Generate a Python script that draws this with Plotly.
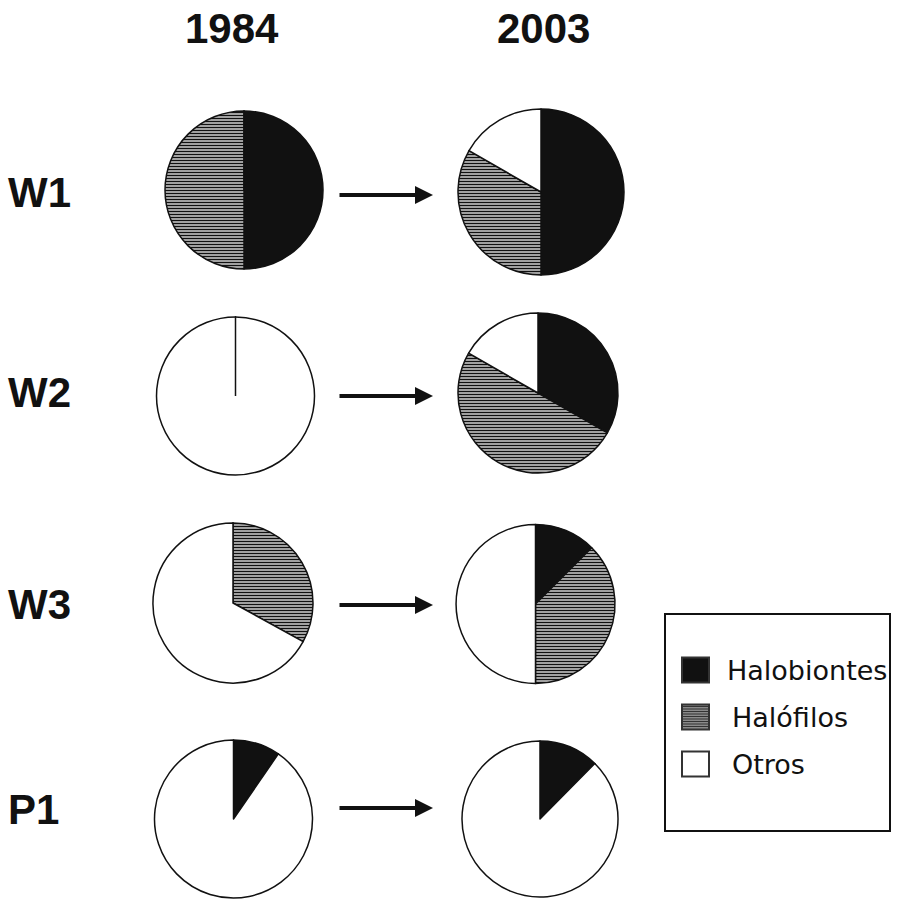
import plotly.graph_objects as go

W, H = 904, 899

categories = ["Halobiontes", "Halófilos", "Otros"]
sites = ["W1", "W2", "W3", "P1"]
years = ["1984", "2003"]

# percentage of species per category (Halobiontes, Halófilos, Otros)
w1_1984 = [50, 50, 0]
w1_2003 = [50, 33.3, 16.7]
w2_1984 = [0, 0, 100]
w2_2003 = [33.3, 50, 16.7]
w3_1984 = [0, 33, 67]
w3_2003 = [12.5, 37.5, 50]
p1_1984 = [9.6, 0, 90.4]
p1_2003 = [12.4, 0, 87.6]

# layout (pixel centres / radii of pies)
pie_layout = {
    ("W1", "1984"): (244, 190, 79), ("W1", "2003"): (541, 192, 83),
    ("W2", "1984"): (235.5, 396, 79), ("W2", "2003"): (538, 393, 80),
    ("W3", "1984"): (233, 603, 80), ("W3", "2003"): (535.5, 604, 79.5),
    ("P1", "1984"): (233.5, 819, 79), ("P1", "2003"): (540, 819, 78),
}
data_map = {
    ("W1", "1984"): w1_1984, ("W1", "2003"): w1_2003,
    ("W2", "1984"): w2_1984, ("W2", "2003"): w2_2003,
    ("W3", "1984"): w3_1984, ("W3", "2003"): w3_2003,
    ("P1", "1984"): p1_1984, ("P1", "2003"): p1_2003,
}
row_y = {"W1": 192, "W2": 393, "W3": 604, "P1": 809}
arrow_y = {"W1": 195, "W2": 396, "W3": 605, "P1": 808}
header_x = {"1984": 232, "2003": 543}

fills = ["#111111", "#ffffff", "#ffffff"]
pattern_shapes = ["", "-", ""]

def px(x):
    return x / W

def py(y):
    return 1 - y / H

fig = go.Figure()
for key, vals in data_map.items():
    cx, cy, r = pie_layout[key]
    fig.add_trace(go.Pie(
        labels=categories, values=vals, sort=False, direction="clockwise",
        rotation=0, textinfo="none", hoverinfo="label+percent",
        showlegend=False,
        marker=dict(colors=fills,
                    line=dict(color="#111111", width=1.5),
                    pattern=dict(shape=pattern_shapes, fgcolor="#111111",
                                 bgcolor="#ffffff", size=3, solidity=0.6)),
        domain=dict(x=[px(cx - r), px(cx + r)], y=[py(cy + r), py(cy - r)]),
    ))

shapes = []
annotations = []

# radial line of empty slices in W2 1984
cx, cy, r = pie_layout[("W2", "1984")]
shapes.append(dict(type="line", xref="paper", yref="paper",
                   x0=px(cx), y0=py(cy), x1=px(cx), y1=py(cy - r),
                   line=dict(color="#111111", width=1.5)))

for yr in years:
    annotations.append(dict(text=f"<b>{yr}</b>", x=px(header_x[yr]), y=py(28),
                            xref="paper", yref="paper", showarrow=False,
                            font=dict(family="Liberation Sans, Arial",
                                      size=42, color="#111111"),
                            xanchor="center", yanchor="middle"))

for s in sites:
    annotations.append(dict(text=f"<b>{s}</b>", x=px(6), y=py(row_y[s]),
                            xref="paper", yref="paper", showarrow=False,
                            font=dict(family="Liberation Sans, Arial", size=42,
                                      color="#111111"),
                            xanchor="left", yanchor="middle"))
    annotations.append(dict(text="", x=px(433), y=py(arrow_y[s]),
                            xref="paper", yref="paper", showarrow=True,
                            ax=-95, ay=0, arrowhead=2, arrowsize=0.9,
                            arrowwidth=4, arrowcolor="#111111", standoff=0))

# legend box
shapes.append(dict(type="rect", xref="paper", yref="paper",
                   x0=px(665), x1=px(890), y0=py(831), y1=py(614),
                   line=dict(color="#111111", width=2), fillcolor="white"))
leg_y = [670, 717, 764]
for i, cat in enumerate(categories):
    yc = leg_y[i]
    x0, x1 = 682, 709
    y0, y1 = yc - 12.5, yc + 12.5
    shapes.append(dict(type="rect", xref="paper", yref="paper",
                       x0=px(x0), x1=px(x1), y0=py(y1), y1=py(y0),
                       line=dict(color="#333333", width=2),
                       fillcolor=fills[i] if i != 1 else "#8a8a8a"))
    if pattern_shapes[i] == "-":
        path = ""
        yy = y0 + 2
        while yy < y1 - 1:
            path += f"M{px(x0 + 1)},{py(yy)} L{px(x1 - 1)},{py(yy)} "
            yy += 2.5
        shapes.append(dict(type="path", xref="paper", yref="paper", path=path,
                           line=dict(color="#333333", width=1)))
    annotations.append(dict(text=cat, x=px(725 if i == 0 else 730), y=py(yc),
                            xref="paper", yref="paper", showarrow=False,
                            font=dict(family="DejaVu Sans", size=27, color="#111111"),
                            xanchor="left", yanchor="middle"))

fig.update_layout(width=W, height=H, margin=dict(l=0, r=0, t=0, b=0),
                  paper_bgcolor="white", plot_bgcolor="white",
                  shapes=shapes, annotations=annotations)

fig.write_html("out.html", config={"displayModeBar": False},
               post_script="document.body.style.margin='0px';")
